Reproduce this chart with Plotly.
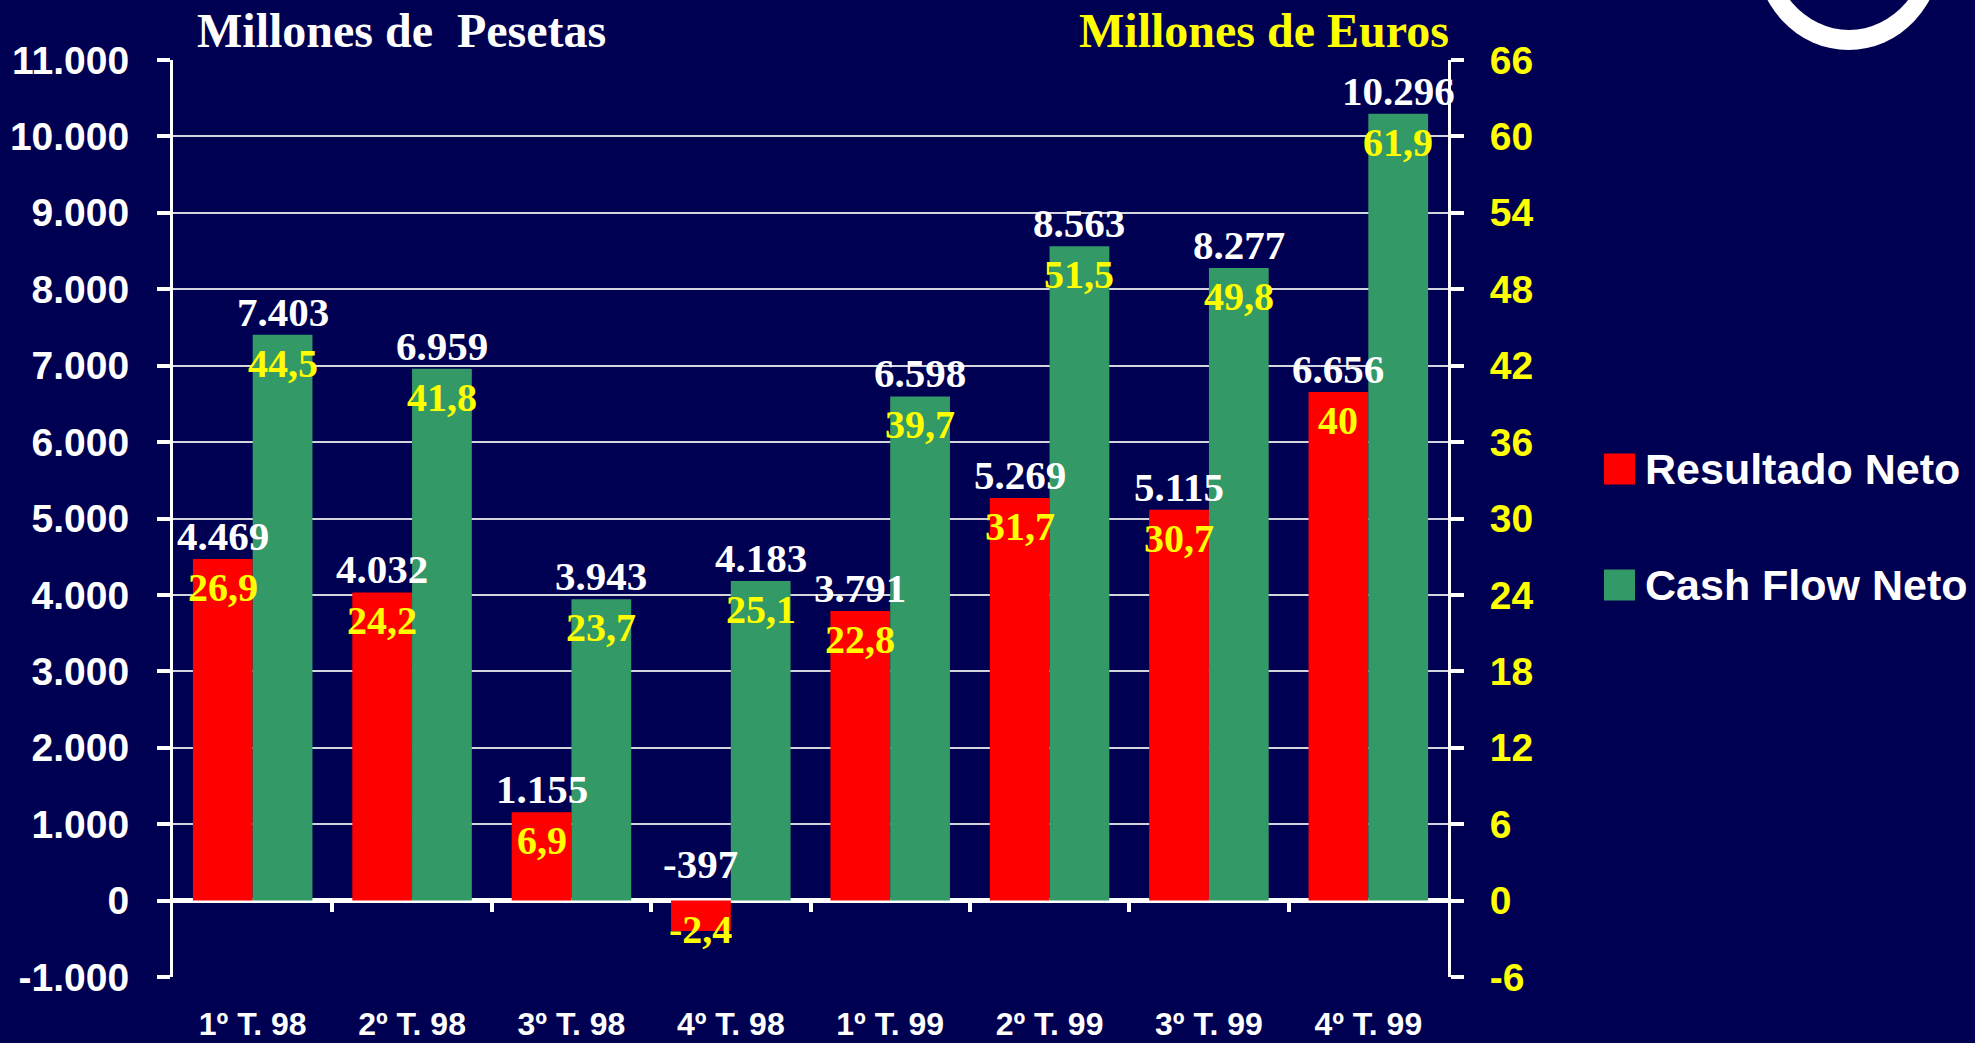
import plotly.graph_objects as go

# ---------------- data ----------------
categories = ["1º T. 98", "2º T. 98", "3º T. 98", "4º T. 98",
              "1º T. 99", "2º T. 99", "3º T. 99", "4º T. 99"]
resultado_ptas = [4469, 4032, 1155, -397, 3791, 5269, 5115, 6656]
cashflow_ptas = [7403, 6959, 3943, 4183, 6598, 8563, 8277, 10296]
resultado_eur = [26.9, 24.2, 6.9, -2.4, 22.8, 31.7, 30.7, 40]
cashflow_eur = [44.5, 41.8, 23.7, 25.1, 39.7, 51.5, 49.8, 61.9]
series_names = ["Resultado Neto", "Cash Flow Neto"]

ptas_tickvals = [-1000, 0, 1000, 2000, 3000, 4000, 5000, 6000, 7000, 8000, 9000, 10000, 11000]
ptas_ticktext = ["-1.000", "0", "1.000", "2.000", "3.000", "4.000", "5.000",
                 "6.000", "7.000", "8.000", "9.000", "10.000", "11.000"]
eur_tickvals = [-6, 0, 6, 12, 18, 24, 30, 36, 42, 48, 54, 60, 66]
eur_ticktext = ["-6", "0", "6", "12", "18", "24", "30", "36", "42", "48", "54", "60", "66"]

title_left = "Millones de\u00a0 Pesetas"
title_right = "Millones de Euros"

# ---------------- style ----------------
BG = "#000052"
COLORS = ["#FF0000", "#339966"]
YELLOW = "#FFFF00"
WHITE = "#FFFFFF"
SANS = "Liberation Sans, Arial, sans-serif"
SERIF = "Liberation Serif, Times New Roman, serif"

W, H = 1975, 1043
ML, MR, MT, MB = 173, 527, 60, 66
PW, PH = W - ML - MR, H - MT - MB


def px_x(px):
    return (px - ML) / PW


def px_y(py):
    return (H - MB - py) / PH


def fmt_ptas(v):
    s = f"{abs(v):,}".replace(",", ".")
    return ("-" if v < 0 else "") + s


def fmt_eur(v):
    return f"{v:g}".replace(".", ",")


xpos = list(range(len(categories)))
bargap = 0.25
bar_w = (1 - bargap) / 2
yrange = [ptas_tickvals[0], ptas_tickvals[-1]]
y2range = [eur_tickvals[0], eur_tickvals[-1]]
zero_frac = (0 - yrange[0]) / (yrange[1] - yrange[0])

fig = go.Figure()
for name, col, vals in zip(series_names, COLORS, [resultado_ptas, cashflow_ptas]):
    fig.add_trace(go.Bar(x=xpos, y=vals, name=name, marker=dict(color=col, line=dict(width=0)),
                         hoverinfo="skip", showlegend=False))

# hidden traces to bind the euro axis and the boundary-tick axis
fig.add_trace(go.Scatter(x=xpos, y=cashflow_eur, yaxis="y2", mode="markers",
                         marker=dict(opacity=0), hoverinfo="skip", showlegend=False))
fig.add_trace(go.Scatter(x=xpos, y=[0] * len(xpos), xaxis="x2", mode="markers",
                         marker=dict(opacity=0), hoverinfo="skip", showlegend=False))

annotations = []
for si, (pv, ev) in enumerate([(resultado_ptas, resultado_eur), (cashflow_ptas, cashflow_eur)]):
    off = (si - 0.5) * bar_w
    for i, (p, e) in enumerate(zip(pv, ev)):
        top = max(p, 0)
        annotations.append(dict(x=i + off, y=top, xref="x", yref="y", text=fmt_ptas(p),
                                showarrow=False, yanchor="bottom", xanchor="center",
                                yshift=12 if p < 0 else -2,
                                font=dict(family=SERIF, size=41, color=WHITE, weight="bold")))
        annotations.append(dict(x=i + off, y=top, xref="x", yref="y", text=fmt_eur(e),
                                showarrow=False, yanchor="top", xanchor="center",
                                yshift=-4,
                                font=dict(family=SERIF, size=40, color=YELLOW, weight="bold")))

# axis titles
annotations.append(dict(x=px_x(195), y=px_y(31), xref="paper", yref="paper", text=title_left,
                        showarrow=False, xanchor="left", yanchor="middle",
                        font=dict(family=SERIF, size=48, color=WHITE, weight="bold")))
annotations.append(dict(x=px_x(1451), y=px_y(31), xref="paper", yref="paper", text=title_right,
                        showarrow=False, xanchor="right", yanchor="middle",
                        font=dict(family=SERIF, size=48, color=YELLOW, weight="bold")))

shapes = []
# custom legend
legend_rows = [469, 585]
for name, col, cy in zip(series_names, COLORS, legend_rows):
    shapes.append(dict(type="rect", xref="paper", yref="paper",
                       x0=px_x(1604), x1=px_x(1635), y0=px_y(cy + 15.5), y1=px_y(cy - 15.5),
                       fillcolor=col, line=dict(width=0)))
    annotations.append(dict(x=px_x(1643), y=px_y(cy), xref="paper", yref="paper", text=name,
                            showarrow=False, xanchor="left", yanchor="middle",
                            font=dict(family=SANS, size=43, color=WHITE, weight="bold")))

# logo fragment in the top-right corner
shapes.append(dict(type="circle", xref="paper", yref="paper",
                   x0=px_x(1755), x1=px_x(1942), y0=px_y(50), y1=px_y(-150),
                   fillcolor=WHITE, line=dict(width=0), layer="above"))
shapes.append(dict(type="circle", xref="paper", yref="paper",
                   x0=px_x(1768), x1=px_x(1930), y0=px_y(30), y1=px_y(-160),
                   fillcolor=BG, line=dict(width=0), layer="above"))

fig.update_layout(
    width=W, height=H,
    margin=dict(l=ML, r=MR, t=MT, b=MB, pad=0, autoexpand=False),
    paper_bgcolor=BG, plot_bgcolor=BG,
    barmode="group", bargap=bargap, bargroupgap=0,
    showlegend=False,
    annotations=annotations, shapes=shapes,
    xaxis=dict(range=[-0.5, len(categories) - 0.5], tickmode="array", tickvals=xpos,
               ticktext=categories, showgrid=False, zeroline=False, showline=False,
               ticks="", ticklabelstandoff=25, automargin=False,
               tickfont=dict(family=SANS, size=32, color=WHITE, weight="bold"),
               fixedrange=True),
    xaxis2=dict(overlaying="x", anchor="free", position=zero_frac, side="bottom",
                range=[-0.5, len(categories) - 0.5], tickmode="array",
                tickvals=[i + 0.5 for i in xpos[:-1]], showticklabels=False,
                ticks="outside", ticklen=10, tickwidth=4, tickcolor=WHITE, automargin=False,
                showgrid=False, zeroline=False, showline=False, fixedrange=True),
    yaxis=dict(range=yrange, tickmode="array", tickvals=ptas_tickvals, ticktext=ptas_ticktext,
               showgrid=True, gridcolor="#D4D4DC", gridwidth=2,
               zeroline=True, zerolinecolor=WHITE, zerolinewidth=5,
               showline=True, linecolor=WHITE, linewidth=3,
               ticks="outside", ticklen=13, tickwidth=4, tickcolor=WHITE,
               ticklabelstandoff=20, automargin=False,
               tickfont=dict(family=SANS, size=39, color=WHITE, weight="bold"),
               fixedrange=True),
    yaxis2=dict(range=y2range, overlaying="y", side="right", anchor="x",
                tickmode="array", tickvals=eur_tickvals, ticktext=eur_ticktext,
                showgrid=False, zeroline=False,
                showline=True, linecolor=WHITE, linewidth=3,
                ticks="outside", ticklen=13, tickwidth=4, tickcolor=WHITE,
                ticklabelstandoff=18, automargin=False,
                tickfont=dict(family=SANS, size=39, color=YELLOW, weight="bold"),
                fixedrange=True),
)

fig.write_html("out.html", config={"displayModeBar": False},
               post_script="document.body.style.margin='0';document.body.style.overflow='hidden';")
